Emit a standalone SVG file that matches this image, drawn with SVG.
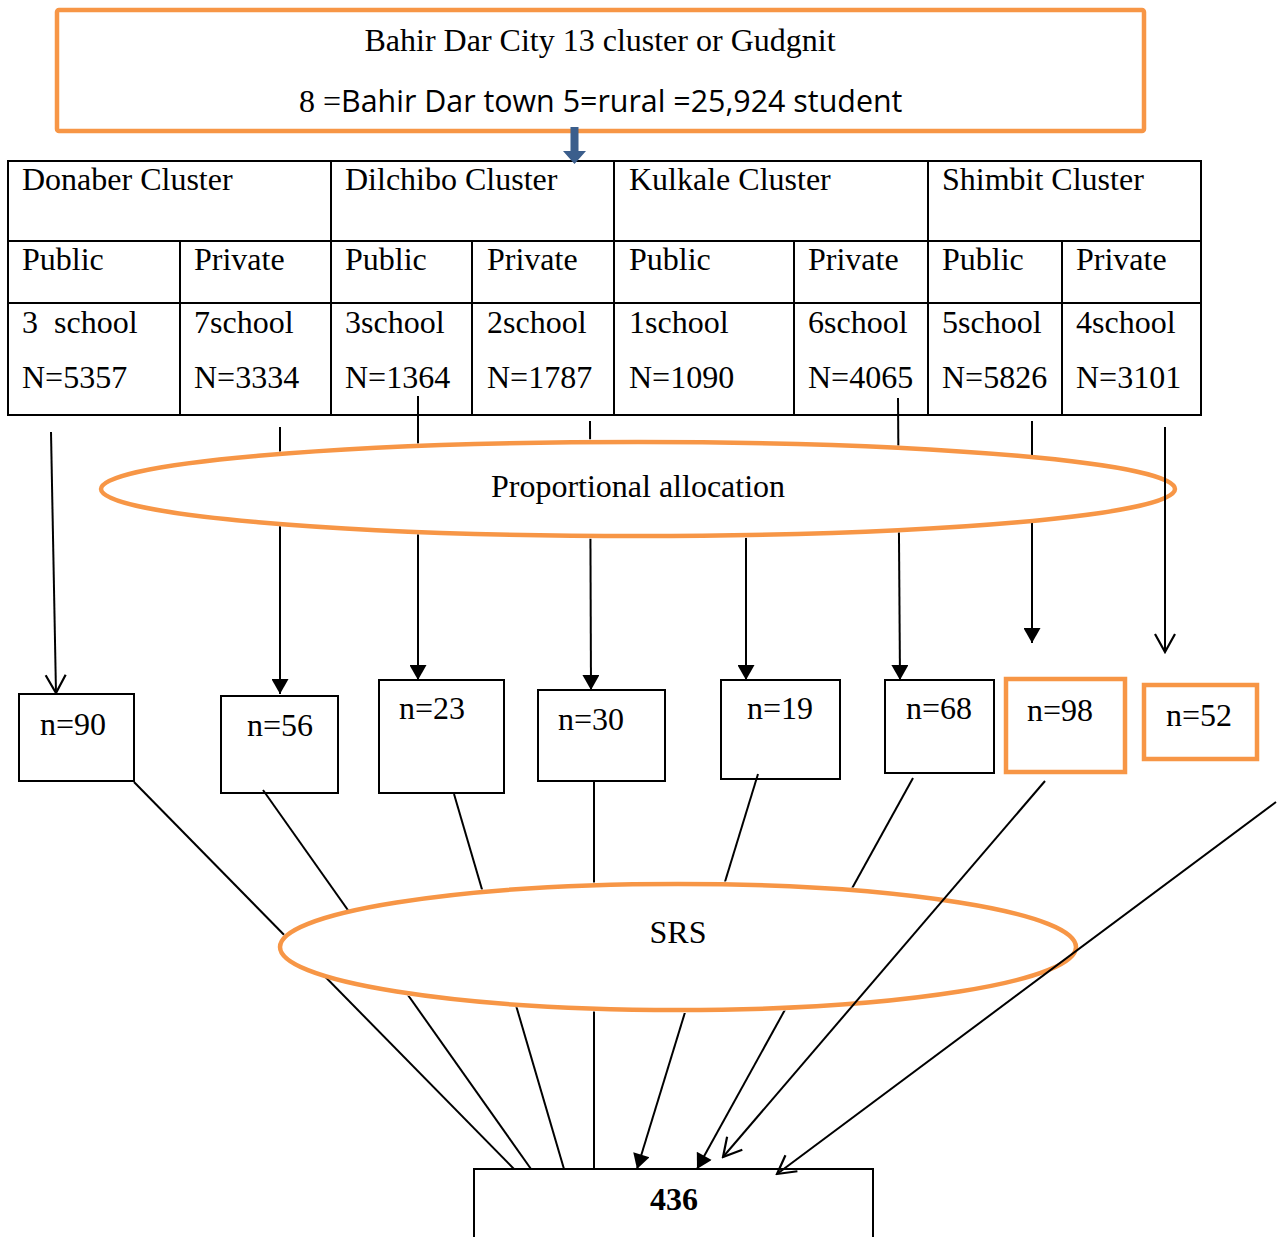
<svg xmlns="http://www.w3.org/2000/svg" width="1282" height="1237" viewBox="0 0 1282 1237">
<style>
.serif{font-family:"Liberation Serif","Times New Roman",serif;font-size:32px;fill:#000}
.sans{font-family:"Open Sans","Noto Sans",sans-serif;font-size:30.4px;fill:#000}
.bold{font-weight:bold}
.ln{stroke:#000;stroke-width:2;fill:none}
.tl{stroke:#000;stroke-width:2;fill:none}
.box{fill:#fff;stroke:#000;stroke-width:2}
.obox{fill:#fff;stroke:#F79646;stroke-width:4.5}
.ell{fill:#fff;stroke:#F79646;stroke-width:4.5}
.fa{marker-end:url(#filled)}
.oa{marker-end:url(#open)}
</style>
<defs>
<marker id="filled" markerUnits="userSpaceOnUse" markerWidth="17" markerHeight="17" viewBox="0 0 17 17" refX="16" refY="8.5" orient="auto">
<path d="M1,0 L16,8.5 L1,17 z" fill="#000"/>
</marker>
<marker id="open" markerUnits="userSpaceOnUse" markerWidth="22" markerHeight="24" viewBox="0 0 22 24" refX="20" refY="12" orient="auto">
<path d="M2,2 L20,12 L2,22" fill="none" stroke="#000" stroke-width="2.2"/>
</marker>
<mask id="holes" maskUnits="userSpaceOnUse" x="0" y="0" width="1282" height="1237">
<rect x="0" y="0" width="1282" height="1237" fill="#fff"/>
<ellipse cx="638" cy="489" rx="540" ry="50" fill="#000"/>
<ellipse cx="678" cy="947" rx="401" ry="66" fill="#000"/>
</mask>
</defs>
<rect x="0" y="0" width="1282" height="1237" fill="#fff"/>

<g id="table">
<rect x="8" y="161" width="1193" height="254" class="tl"/>
<line x1="8" y1="241" x2="1201" y2="241" class="tl"/>
<line x1="8" y1="303" x2="1201" y2="303" class="tl"/>
<line x1="331" y1="161" x2="331" y2="415" class="tl"/>
<line x1="614" y1="161" x2="614" y2="415" class="tl"/>
<line x1="928" y1="161" x2="928" y2="415" class="tl"/>
<line x1="180" y1="241" x2="180" y2="415" class="tl"/>
<line x1="472" y1="241" x2="472" y2="415" class="tl"/>
<line x1="794" y1="241" x2="794" y2="415" class="tl"/>
<line x1="1062" y1="241" x2="1062" y2="415" class="tl"/>
<text class="serif" x="22" y="190">Donaber Cluster</text>
<text class="serif" x="345" y="190">Dilchibo Cluster</text>
<text class="serif" x="629" y="190">Kulkale Cluster</text>
<text class="serif" x="942" y="190">Shimbit Cluster</text>
<text class="serif" x="22" y="270">Public</text>
<text class="serif" x="194" y="270">Private</text>
<text class="serif" x="345" y="270">Public</text>
<text class="serif" x="487" y="270">Private</text>
<text class="serif" x="629" y="270">Public</text>
<text class="serif" x="808" y="270">Private</text>
<text class="serif" x="942" y="270">Public</text>
<text class="serif" x="1076" y="270">Private</text>
<text class="serif" x="22" y="333" xml:space="preserve">3  school</text>
<text class="serif" x="194" y="333">7school</text>
<text class="serif" x="345" y="333">3school</text>
<text class="serif" x="487" y="333">2school</text>
<text class="serif" x="629" y="333">1school</text>
<text class="serif" x="808" y="333">6school</text>
<text class="serif" x="942" y="333">5school</text>
<text class="serif" x="1076" y="333">4school</text>
<text class="serif" x="22" y="388">N=5357</text>
<text class="serif" x="194" y="388">N=3334</text>
<text class="serif" x="345" y="388">N=1364</text>
<text class="serif" x="487" y="388">N=1787</text>
<text class="serif" x="629" y="388">N=1090</text>
<text class="serif" x="808" y="388">N=4065</text>
<text class="serif" x="942" y="388">N=5826</text>
<text class="serif" x="1076" y="388">N=3101</text>
</g>

<g id="top-box">
<rect x="57" y="10" width="1087" height="121" rx="2" class="obox"/>
<text class="serif" x="600" y="51" text-anchor="middle">Bahir Dar City 13 cluster or Gudgnit</text>
<text x="299" y="112"><tspan class="serif">8 =</tspan><tspan class="sans">Bahir Dar town 5=rural =25,924 student</tspan></text>
</g>

<g id="ellipse-proportional">
<ellipse cx="638" cy="489" rx="537" ry="47" class="ell"/>
<text class="serif" x="638" y="497" text-anchor="middle">Proportional allocation</text>
</g>

<g id="ellipse-srs">
<ellipse cx="678" cy="947" rx="398" ry="63" class="ell"/>
<text class="serif" x="678" y="943" text-anchor="middle">SRS</text>
</g>

<g id="box-n90"><rect x="19" y="694" width="115" height="87" class="box"/><text class="serif" x="40" y="735">n=90</text></g>
<g id="box-n56"><rect x="221" y="696" width="117" height="97" class="box"/><text class="serif" x="247" y="736">n=56</text></g>
<g id="box-n23"><rect x="379" y="680" width="125" height="113" class="box"/><text class="serif" x="399" y="719">n=23</text></g>
<g id="box-n30"><rect x="538" y="690" width="127" height="91" class="box"/><text class="serif" x="558" y="730">n=30</text></g>
<g id="box-n19"><rect x="721" y="680" width="119" height="99" class="box"/><text class="serif" x="747" y="719">n=19</text></g>
<g id="box-n68"><rect x="885" y="680" width="109" height="93" class="box"/><text class="serif" x="906" y="719">n=68</text></g>
<g id="box-n98"><rect x="1006" y="679" width="119" height="93" class="obox"/><text class="serif" x="1027" y="721">n=98</text></g>
<g id="box-n52"><rect x="1144" y="685" width="113" height="74" class="obox"/><text class="serif" x="1166" y="726">n=52</text></g>

<g id="box-total"><rect x="474" y="1169" width="399" height="90" class="box"/><text class="serif bold" x="650" y="1210">436</text></g>

<g id="connectors">
<g mask="url(#holes)">
<line x1="280" y1="427" x2="280" y2="694" class="ln fa"/>
<line x1="418" y1="396" x2="418" y2="680" class="ln fa"/>
<line x1="590" y1="421" x2="591" y2="690" class="ln fa"/>
<line x1="746" y1="500" x2="746" y2="680" class="ln fa"/>
<line x1="898" y1="398" x2="900" y2="680" class="ln fa"/>
<line x1="1032" y1="421" x2="1032" y2="643" class="ln fa"/>
<line x1="134" y1="782" x2="514" y2="1169" class="ln"/>
<line x1="263" y1="790" x2="531" y2="1169" class="ln"/>
<line x1="454" y1="794" x2="564" y2="1169" class="ln"/>
<line x1="594" y1="781" x2="594" y2="1169" class="ln"/>
<line x1="758" y1="774" x2="637" y2="1169" class="ln fa"/>
<line x1="913" y1="778" x2="697" y2="1169" class="ln fa"/>
</g>
<line x1="51" y1="432" x2="56" y2="693" class="ln oa"/>
<line x1="1165" y1="427" x2="1165" y2="652" class="ln oa"/>
<line x1="1045" y1="781" x2="723" y2="1157" class="ln oa"/>
<line x1="1276" y1="802" x2="777" y2="1174" class="ln oa"/>
<path d="M570.5,127 H578.5 V151 H586 L574.5,164 L563,151 H570.5 Z" fill="#3B5E8C"/>
</g>
</svg>
